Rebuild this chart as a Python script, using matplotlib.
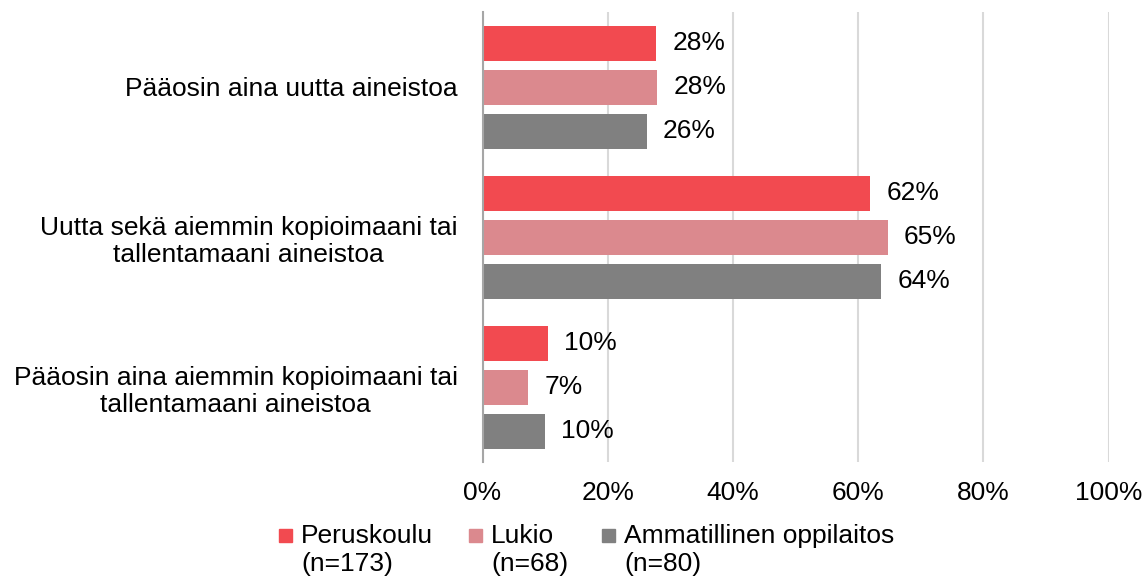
import matplotlib
matplotlib.use("Agg")
from matplotlib import pyplot as plt
from matplotlib.patches import Rectangle
import numpy as np

plt.rcParams["font.family"] = ["Liberation Sans", "DejaVu Sans"]

categories = [
    "Pääosin aina uutta aineistoa",
    "Uutta sekä aiemmin kopioimaani tai\ntallentamaani aineistoa",
    "Pääosin aina aiemmin kopioimaani tai\ntallentamaani aineistoa",
]
series_names = ["Peruskoulu\n(n=173)", "Lukio\n(n=68)", "Ammatillinen oppilaitos\n(n=80)"]
peruskoulu = [27.7, 61.9, 10.4]
lukio = [27.9, 64.7, 7.3]
ammatillinen = [26.2, 63.7, 10.0]
xticks = [0, 20, 40, 60, 80, 100]

colors = ["#F24A50", "#DB898E", "#808080"]
FS = 19

fig = plt.figure(figsize=(11.44, 5.79), dpi=100)
ax = fig.add_axes([482.5 / 1144, 1 - 462 / 579, 626 / 1144, 450 / 579])

y = np.arange(len(categories))
step = 44 / 150
height = 35 / 150
for i, (vals, col) in enumerate(zip([peruskoulu, lukio, ammatillinen], colors)):
    pos = y + (i - 1) * step
    ax.barh(pos, vals, height=height, color=col, zorder=3)
    for p, v in zip(pos, vals):
        ax.text(v + 2.6, p, f"{round(v):d}%", va="center", ha="left", fontsize=FS)

ax.set_ylim(2.5, -0.5)
ax.set_xlim(0, 100)
ax.set_yticks(y)
ax.set_yticklabels(categories, fontsize=FS, multialignment="center")
ax.set_xticks(xticks)
ax.set_xticklabels([f"{t}%" for t in xticks], fontsize=FS)
ax.tick_params(axis="y", length=0, pad=18)
ax.tick_params(axis="x", length=0, pad=14)
ax.grid(axis="x", color="#D9D9D9", linewidth=1.5, zorder=0)
for s in ["top", "right", "bottom"]:
    ax.spines[s].set_visible(False)
ax.spines["left"].set_color("#A6A6A6")
ax.spines["left"].set_linewidth(1.5)
ax.spines["left"].set_zorder(4)

# legend drawn by hand so the squares sit on the first text line
leg_x = [279, 469, 602]
for name, col, lx in zip(series_names, colors, leg_x):
    fig.patches.append(Rectangle((lx / 1144, 1 - 542 / 579), 13 / 1144, 13 / 579,
                                 transform=fig.transFigure, color=col))
    fig.text((lx + 22) / 1144, 1 - 524 / 579, name, fontsize=FS, va="top", ha="left",
             linespacing=1.2)

fig.savefig("out.png", dpi=100)
